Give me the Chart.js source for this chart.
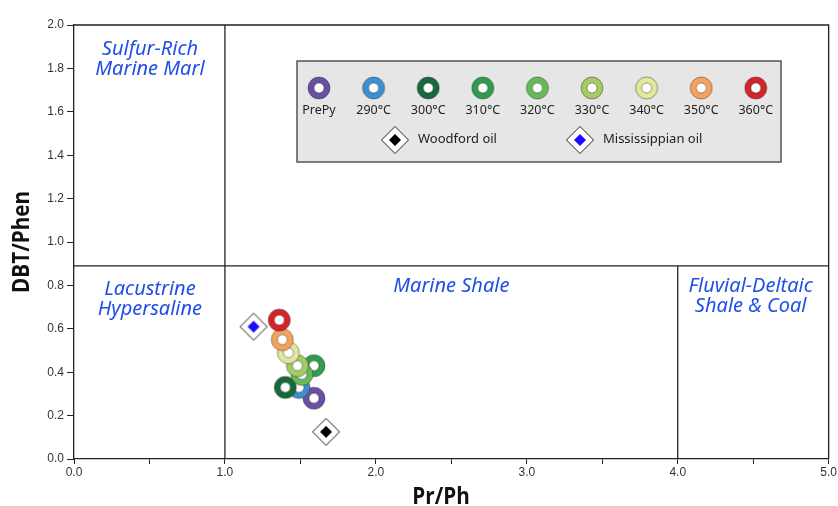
<!DOCTYPE html>
<html>
<head>
<meta charset="utf-8">
<script src="https://cdn.jsdelivr.net/npm/chart.js@4.4.1/dist/chart.umd.min.js"></script>
<style>
  html, body { margin: 0; padding: 0; background: #ffffff; }
  #wrap { width: 838px; height: 506px; }
</style>
</head>
<body>
<div id="wrap"><canvas id="c" width="838" height="506"></canvas></div>
<script>
// Pyrolysis series: Pr/Ph vs DBT/Phen
const categories = ['PrePy', '290°C', '300°C', '310°C', '320°C', '330°C', '340°C', '350°C', '360°C'];
const prPh       = [1.59, 1.49, 1.40, 1.59, 1.51, 1.48, 1.42, 1.38, 1.36];
const dbtPhen    = [0.28, 0.33, 0.33, 0.43, 0.39, 0.43, 0.49, 0.55, 0.64];
const ringColors = ['#6b4fa5', '#3d8fd0', '#17683a', '#2f9d50', '#67ba55', '#a3cd62', '#dfe89b', '#f5a35c', '#d52428'];

// Crude oils
const oilNames   = ['Woodford oil', 'Mississippian oil'];
const oilPrPh    = [1.67, 1.19];
const oilDbtPhen = [0.125, 0.61];
const oilColors  = ['#000000', '#1a0dff'];

// Depositional environment fields
const zoneNames = [
  ['Sulfur-Rich', 'Marine Marl'],
  ['Lacustrine', 'Hypersaline'],
  ['Marine Shale'],
  ['Fluvial-Deltaic', 'Shale & Coal']
];
const zoneLabelAt = [[0.503, 1.89], [0.503, 0.78], [2.50, 0.795], [4.483, 0.798]];
const prPhBounds  = [1.0, 4.0];
const dbtPhenBound = 0.89;

const xTickLabels = ['0.0', '1.0', '2.0', '3.0', '4.0', '5.0'];
const yTickLabels = ['0.0', '0.2', '0.4', '0.6', '0.8', '1.0', '1.2', '1.4', '1.6', '1.8', '2.0'];
const xTitle = 'Pr/Ph';
const yTitle = 'DBT/Phen';

const ZONE_FONT = 'italic 20px "Noto Sans", "Open Sans", sans-serif';
const ZONE_COLOR = '#1f4fe6';
const TITLE_FONT = 'bold 24px "Open Sans", "Noto Sans", sans-serif';
const TICK_FONT = { family: '"Liberation Sans Narrow", "Liberation Sans", sans-serif', size: 12 };

function ringImage(color) {
  const s = 26, m = s / 2;
  const c = document.createElement('canvas');
  c.width = s; c.height = s;
  const g = c.getContext('2d');
  g.lineWidth = 0.8;
  g.strokeStyle = 'rgba(40,40,40,0.55)';
  g.beginPath(); g.arc(m, m, 11, 0, Math.PI * 2);
  g.fillStyle = color; g.fill(); g.stroke();
  g.beginPath(); g.arc(m, m, 5, 0, Math.PI * 2);
  g.fillStyle = '#ffffff'; g.fill(); g.stroke();
  return c;
}

function diamondImage(color) {
  const s = 30, m = s / 2;
  const c = document.createElement('canvas');
  c.width = s; c.height = s;
  const g = c.getContext('2d');
  g.beginPath();
  g.moveTo(m, m - 13.5); g.lineTo(m + 13.5, m); g.lineTo(m, m + 13.5); g.lineTo(m - 13.5, m); g.closePath();
  g.fillStyle = '#ffffff'; g.fill();
  g.lineWidth = 1; g.strokeStyle = '#222'; g.stroke();
  g.beginPath();
  g.moveTo(m, m - 6); g.lineTo(m + 6, m); g.lineTo(m, m + 6); g.lineTo(m - 6, m); g.closePath();
  g.fillStyle = color; g.fill();
  return c;
}

const ringImgs = ringColors.map(ringImage);
const oilImgs = oilColors.map(diamondImage);

const datasets = [];
categories.forEach((name, i) => {
  datasets.push({
    label: name,
    data: [{ x: prPh[i], y: dbtPhen[i] }],
    pointStyle: ringImgs[i],
    order: categories.length - i + 2
  });
});
oilNames.forEach((name, i) => {
  datasets.push({
    label: name,
    data: [{ x: oilPrPh[i], y: oilDbtPhen[i] }],
    pointStyle: oilImgs[i],
    order: 0
  });
});

// Field boundaries, frame, field names, axis titles and key
const fieldsPlugin = {
  id: 'fields',
  beforeDatasetsDraw(chart) {
    const { ctx, chartArea: a, scales: { x, y } } = chart;
    ctx.save();
    ctx.strokeStyle = '#222';
    ctx.lineWidth = 1.3;
    ctx.beginPath();
    ctx.moveTo(a.left, a.top); ctx.lineTo(a.right, a.top); ctx.lineTo(a.right, a.bottom);
    const yb = y.getPixelForValue(dbtPhenBound);
    ctx.moveTo(a.left, yb); ctx.lineTo(a.right, yb);
    const x1 = x.getPixelForValue(prPhBounds[0]);
    ctx.moveTo(x1, a.top); ctx.lineTo(x1, a.bottom);
    const x4 = x.getPixelForValue(prPhBounds[1]);
    ctx.moveTo(x4, yb); ctx.lineTo(x4, a.bottom);
    ctx.stroke();

    ctx.font = ZONE_FONT;
    ctx.fillStyle = ZONE_COLOR;
    ctx.textAlign = 'center';
    ctx.textBaseline = 'middle';
    zoneNames.forEach((lines, i) => {
      const px = x.getPixelForValue(zoneLabelAt[i][0]);
      const py = y.getPixelForValue(zoneLabelAt[i][1]);
      lines.forEach((t, k) => ctx.fillText(t, px, py + k * 20));
    });

    // axis titles in a slightly condensed bold face
    ctx.fillStyle = '#111';
    ctx.font = TITLE_FONT;
    ctx.save();
    ctx.translate(441, 497);
    ctx.scale(0.86, 1);
    ctx.fillText(xTitle, 0, 0);
    ctx.restore();
    ctx.save();
    ctx.translate(22, 242);
    ctx.rotate(-Math.PI / 2);
    ctx.scale(0.86, 1);
    ctx.fillText(yTitle, 0, 0);
    ctx.restore();
    ctx.restore();
  },
  afterDatasetsDraw(chart) {
    const { ctx } = chart;
    const bx = 297, by = 61, bw = 484, bh = 101;
    ctx.save();
    ctx.fillStyle = '#e6e6e6';
    ctx.fillRect(bx, by, bw, bh);
    ctx.strokeStyle = '#555';
    ctx.lineWidth = 1.5;
    ctx.strokeRect(bx, by, bw, bh);

    ctx.font = '12.5px "Noto Sans", "Open Sans", sans-serif';
    ctx.fillStyle = '#222';
    ctx.textAlign = 'center';
    ctx.textBaseline = 'middle';
    categories.forEach((name, i) => {
      const cx = bx + 22 + i * 54.6;
      ctx.drawImage(ringImgs[i], cx - 13, by + 27 - 13);
      ctx.fillText(name, cx, by + 49);
    });
    ctx.textAlign = 'left';
    ctx.font = '13px "Noto Sans", "Open Sans", sans-serif';
    const oilX = [bx + 98, bx + 283];
    oilNames.forEach((name, i) => {
      ctx.drawImage(oilImgs[i], oilX[i] - 15, by + 79 - 15);
      ctx.fillText(name, oilX[i] + 23, by + 78);
    });
    ctx.restore();
  }
};

new Chart(document.getElementById('c'), {
  type: 'scatter',
  data: { datasets },
  options: {
    responsive: false,
    animation: false,
    events: [],
    layout: { padding: { top: 25, right: 8, left: 0, bottom: 0 } },
    plugins: { legend: { display: false }, tooltip: { enabled: false } },
    scales: {
      x: {
        type: 'linear', min: 0, max: 5,
        afterFit(s) { s.height = 47; },
        ticks: {
          stepSize: 0.5, autoSkip: false, maxRotation: 0, padding: 1,
          font: TICK_FONT, color: '#333',
          callback: (v) => Number.isInteger(v) ? xTickLabels[v] : ''
        },
        grid: { drawOnChartArea: false, tickLength: 5, tickColor: '#222', tickWidth: 1 },
        border: { color: '#222', width: 1.3 }
      },
      y: {
        type: 'linear', min: 0, max: 2,
        afterFit(s) { s.width = 74; },
        ticks: {
          stepSize: 0.2, padding: 3, font: TICK_FONT, color: '#333',
          callback: (v) => yTickLabels[Math.round(v * 5)]
        },
        grid: { drawOnChartArea: false, tickLength: 7, tickColor: '#222', tickWidth: 1 },
        border: { color: '#222', width: 1.3 }
      }
    }
  },
  plugins: [fieldsPlugin]
});
</script>
</body>
</html>
